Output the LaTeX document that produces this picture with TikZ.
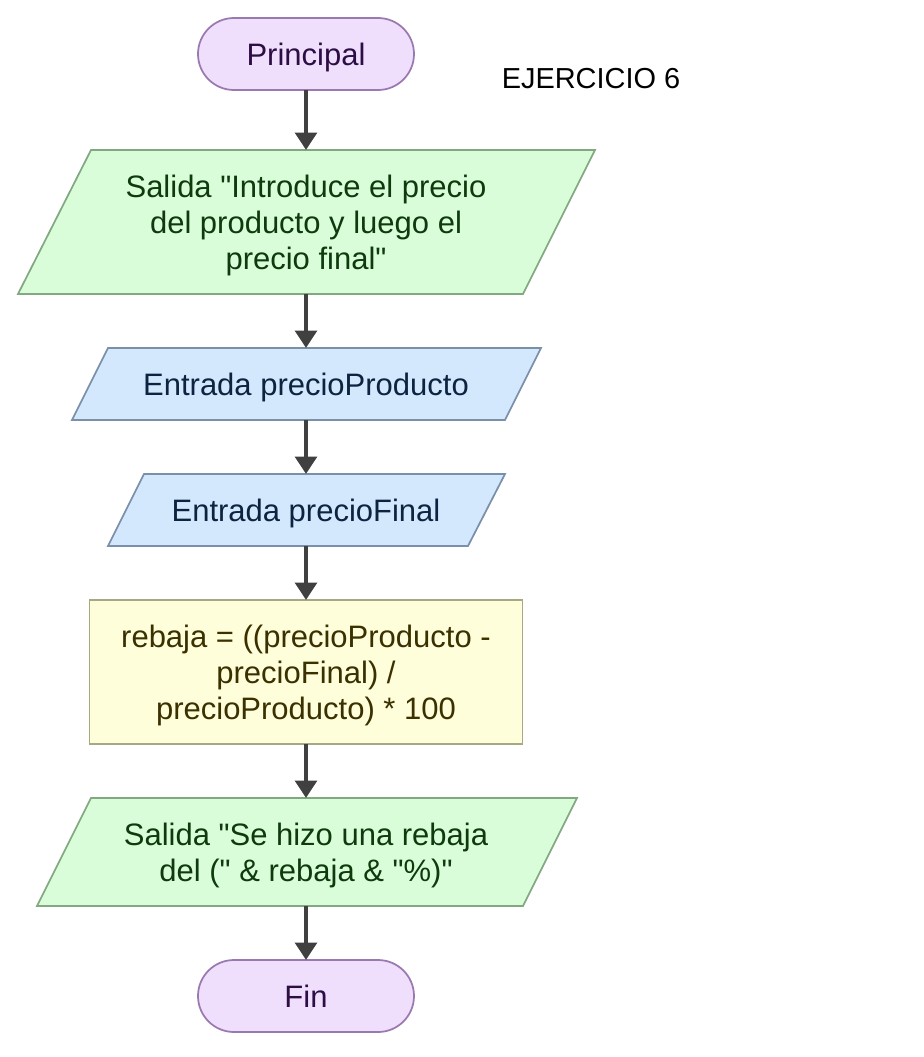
\documentclass[tikz,border=0pt]{standalone}
\usepackage{fontspec}
\setmainfont{Liberation Sans}[Ligatures=TeXOff]
\usetikzlibrary{arrows.meta}
\definecolor{pfill}{HTML}{EFDFFC}
\definecolor{pdraw}{HTML}{9A78B0}
\definecolor{ptext}{HTML}{2C0E44}
\definecolor{gfill}{HTML}{D9FDD9}
\definecolor{gdraw}{HTML}{82A882}
\definecolor{gtext}{HTML}{0E3A0E}
\definecolor{bfill}{HTML}{D3E8FD}
\definecolor{bdraw}{HTML}{7A8FA8}
\definecolor{btext}{HTML}{0C2440}
\definecolor{yfill}{HTML}{FEFEDA}
\definecolor{ydraw}{HTML}{A8A884}
\definecolor{ytext}{HTML}{3A3000}
\definecolor{arrc}{HTML}{404040}
\begin{document}
\begin{tikzpicture}[x=0.75pt,y=-0.75pt,
  txt/.style={align=center,font=\fontsize{23.25}{27}\selectfont,inner sep=0pt,outer sep=0pt,text depth=0pt},
  term/.style={txt,draw=pdraw,fill=pfill,text=ptext,line width=1.3pt,rounded corners=27pt,minimum width=162pt,minimum height=54pt},
  gshape/.style={draw=gdraw,fill=gfill,line width=1.3pt,line join=miter},
  bshape/.style={draw=bdraw,fill=bfill,line width=1.3pt,line join=miter},
  procbox/.style={txt,draw=ydraw,fill=yfill,text=ytext,line width=1.3pt,minimum width=324.75pt,minimum height=108pt},
  arr/.style={draw=arrc,line width=3.5pt,-{Triangle[width=16pt,length=13pt]}},
]
\useasboundingbox (0,0) rectangle (924,1057);
% shapes
\draw[gshape] (91,150) -- (595,150) -- (523,294) -- (18,294) -- cycle;
\draw[bshape] (108,348) -- (541,348) -- (505,420) -- (72,420) -- cycle;
\draw[bshape] (144,474) -- (505,474) -- (468,546) -- (108,546) -- cycle;
\draw[gshape] (91,798) -- (577,798) -- (523,906) -- (37,906) -- cycle;
% nodes
\node[term] (p) at (306,54) {Principal};
\node[txt,font=\fontsize{21.7}{26}\selectfont] (ej) at (591,78) {EJERCICIO 6};
\node[txt,text=gtext,minimum height=108pt] (s1) at (306,222) {Salida "Introduce el precio\\ del producto y luego el\\ precio final"};
\node[txt,text=btext,minimum height=54pt] (e1) at (306,384) {Entrada precioProducto};
\node[txt,text=btext,minimum height=54pt] (e2) at (306,510) {Entrada precioFinal};
\node[procbox] (r) at (306,672) {rebaja = ((precioProducto -\\ precioFinal) /\\ precioProducto) * 100};
\node[txt,text=gtext,minimum height=81pt] (s2) at (306,852) {Salida "Se hizo una rebaja\\ del (" \& rebaja \& "\%)"};
\node[term] (f) at (306,996) {Fin};
% connectors
\draw[arr] (p.south) -- (s1.north);
\draw[arr] (s1.south) -- (e1.north);
\draw[arr] (e1.south) -- (e2.north);
\draw[arr] (e2.south) -- (r.north);
\draw[arr] (r.south) -- (s2.north);
\draw[arr] (s2.south) -- (f.north);
\end{tikzpicture}
\end{document}
